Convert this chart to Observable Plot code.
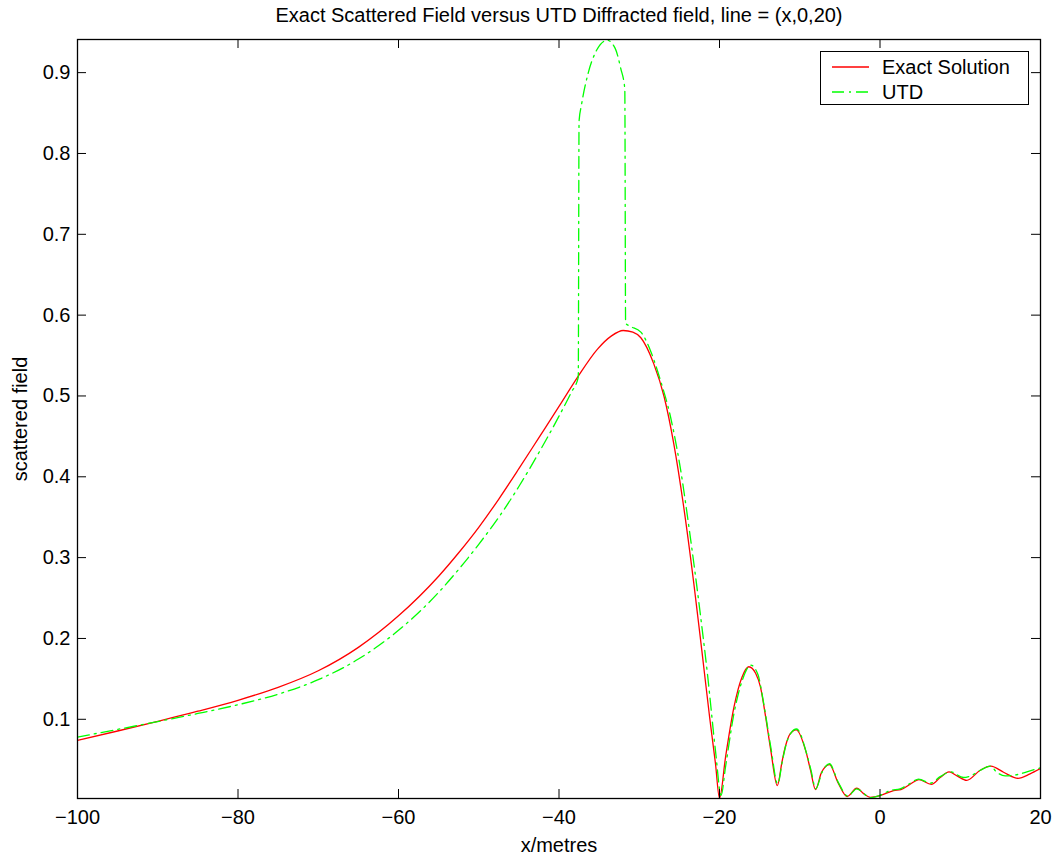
<!DOCTYPE html>
<html>
<head>
<meta charset="utf-8">
<script src="https://cdn.jsdelivr.net/npm/d3@7"></script>
<script src="https://cdn.jsdelivr.net/npm/@observablehq/plot@0.6"></script>
<style>
  html, body { margin: 0; padding: 0; background: #fff; }
  #wrap { position: relative; width: 1060px; height: 858px; font-family: "Liberation Sans", Arial, Helvetica, sans-serif; }
  #legend { position: absolute; left: 820px; top: 51px; width: 209px; height: 54px; border: 1.3px solid #000; background: #fff; box-sizing: border-box; }
  .row { position: absolute; left: 0; height: 24px; display: flex; align-items: center; font-size: 20px; color: #000; }
  .row svg { margin-left: 11px; margin-right: 13px; }
</style>
</head>
<body>
<div id="wrap">
  <div id="chart"></div>
  <div id="legend"></div>
</div>
<script>
// ---- data ----
const titleText = "Exact Scattered Field versus UTD Diffracted field, line = (x,0,20)";
const xLabel = "x/metres";
const yLabel = "scattered field";
const seriesNames = ["Exact Solution", "UTD"];
const seriesColors = ["#ff0000", "#00ff00"];
const xTicks = [-100, -80, -60, -40, -20, 0, 20];
const yTicks = [0.1, 0.2, 0.3, 0.4, 0.5, 0.6, 0.7, 0.8, 0.9];
const xDomain = [-100, 20];
const yDomain = [0.002, 0.941];

const xExact = [-100, -95, -90, -85, -80, -75, -70, -65, -60, -55, -52.5, -50, -47.5, -45, -42.5, -40,
  -37.7, -35.2, -33.5, -32, -30.8, -29.8, -28.2, -26.9, -25.7, -24.45, -23.2, -22.2, -21.2, -20.5,
  -20, -19.25, -18.2, -17.2, -16.35, -15.5, -14.9, -14.25, -13.6, -12.8, -12.2, -11.8, -11.2, -10.45, -9.2, -8.66,
  -8.04, -7.3, -6.3, -5.2, -4.1, -2.9, -2.0, -1.2, 0, 1.7, 2.6, 3.8, 4.84, 6.4, 7.5, 8.6, 9.6, 10.8,
  12.5, 13.8, 15.4, 17.2, 18.7, 20];
const yExact = [0.0740, 0.0855, 0.0975, 0.1100, 0.1235, 0.1395, 0.1600, 0.1890, 0.2280, 0.2770, 0.3060, 0.3375, 0.3725, 0.4100, 0.4485, 0.4870,
  0.5230, 0.5580, 0.5740, 0.5810, 0.5790, 0.5720, 0.5400, 0.4990, 0.4410, 0.3620, 0.2680, 0.1850, 0.1000, 0.0450,
  0.002, 0.053, 0.115, 0.152, 0.165, 0.157, 0.140, 0.103, 0.061, 0.018, 0.048, 0.066, 0.082, 0.087, 0.059, 0.037,
  0.013, 0.034, 0.044, 0.021, 0.0045, 0.0147, 0.0077, 0.0035, 0.0055, 0.0118, 0.013, 0.020, 0.0254, 0.0195, 0.028, 0.035, 0.030, 0.0245,
  0.037, 0.042, 0.0345, 0.027, 0.0325, 0.039];

const xUTD = [-100, -95, -90, -85, -80, -75, -70, -65, -60, -55, -52.5, -50, -47.5, -45, -42.5, -40, -38.5, -37.6,
  -37.5, -37.2, -36.4, -35.3, -34.0, -33.0, -32.3, -31.8, -31.7, -31.3, -29.8, -28.6, -27.35, -26.1, -24.9, -23.7,
  -22.4, -21.5, -20.5, -19.8, -19.25, -18.2, -17.2, -16.1, -15.2, -14.5, -13.6, -12.75, -12.15, -11.75, -11.1, -10.4, -9.1,
  -8.6, -8.0, -7.2, -6.3, -5.2, -4.0, -2.9, -2.0, -1.3, 0, 1.3, 2.5, 3.8, 4.8, 6.3, 7.5, 8.8, 10.4, 11.3, 12.5,
  13.8, 14.5, 15.6, 17.3, 18.6, 20];
const yUTD = [0.0780, 0.0875, 0.0972, 0.1072, 0.1180, 0.1310, 0.1490, 0.1745, 0.2100, 0.2570, 0.2855, 0.3165, 0.3500, 0.3880, 0.4300, 0.4750, 0.5040, 0.5230,
  0.840, 0.860, 0.898, 0.928, 0.940, 0.930, 0.905, 0.880, 0.590, 0.587, 0.579, 0.556, 0.519, 0.474, 0.412, 0.330,
  0.231, 0.156, 0.061, 0.006, 0.041, 0.107, 0.147, 0.167, 0.155, 0.120, 0.065, 0.020, 0.049, 0.067, 0.083, 0.088, 0.056,
  0.037, 0.014, 0.035, 0.045, 0.022, 0.005, 0.014, 0.008, 0.003, 0.006, 0.012, 0.014, 0.021, 0.026, 0.021, 0.029, 0.035, 0.028, 0.030, 0.037,
  0.042, 0.035, 0.030, 0.032, 0.036, 0.040];

// ---- build ----
const exact = xExact.map((x, i) => ({x, y: yExact[i]}));
const utd = xUTD.map((x, i) => ({x, y: yUTD[i]}));
const font = "'Liberation Sans', Arial, Helvetica, sans-serif";
const plotW = 1060 - 77 - 20, plotH = 858 - 39 - 60, tick = 9;

const chart = Plot.plot({
  width: 1060, height: 858,
  marginLeft: 77, marginRight: 20, marginTop: 39, marginBottom: 60,
  x: {domain: xDomain},
  y: {domain: yDomain},
  style: {fontFamily: font, fontSize: "20px", background: "#fff", color: "#000"},
  marks: [
    Plot.line(exact, {x: "x", y: "y", stroke: seriesColors[0], strokeWidth: 1.3, curve: "monotone-x", clip: true}),
    Plot.line(utd, {x: "x", y: "y", stroke: seriesColors[1], strokeWidth: 1.3, strokeDasharray: "12,5,2,5", curve: "monotone-x", clip: true}),
    Plot.frame({stroke: "#000", strokeWidth: 1.3}),
    Plot.tickX(xTicks, {x: d => d, insetTop: plotH - tick, stroke: "#000"}),
    Plot.tickX(xTicks, {x: d => d, insetBottom: plotH - tick, stroke: "#000"}),
    Plot.tickY(yTicks, {y: d => d, insetRight: plotW - tick, stroke: "#000"}),
    Plot.tickY(yTicks, {y: d => d, insetLeft: plotW - tick, stroke: "#000"}),
    Plot.axisX({ticks: xTicks, tickSize: 0, tickPadding: 11, tickFormat: d3.format("d"), label: null, fontSize: 20}),
    Plot.axisY({ticks: yTicks, tickSize: 0, tickPadding: 7, tickFormat: d3.format(".1f"), label: null, fontSize: 20}),
    Plot.text([xLabel], {text: d => d, frameAnchor: "bottom", dy: 47, lineAnchor: "middle", fontSize: 20}),
    Plot.text([yLabel], {text: d => d, frameAnchor: "left", dx: -57, rotate: -90, lineAnchor: "middle", textAnchor: "middle", fontSize: 20}),
    Plot.text([titleText], {text: d => d, frameAnchor: "top", dy: -24, lineAnchor: "middle", fontSize: 20})
  ]
});
document.getElementById("chart").appendChild(chart);

// legend
const legend = document.getElementById("legend");
seriesNames.forEach((name, i) => {
  const row = document.createElement("div");
  row.className = "row";
  row.style.top = (i === 0 ? 3 : 28) + "px";
  const dash = i === 0 ? "" : `stroke-dasharray="12,5,2,5"`;
  row.innerHTML = `<svg width="37" height="4"><line x1="0" y1="2" x2="37" y2="2" stroke="${seriesColors[i]}" stroke-width="1.3" ${dash}/></svg><span>${name}</span>`;
  legend.appendChild(row);
});
</script>
</body>
</html>
